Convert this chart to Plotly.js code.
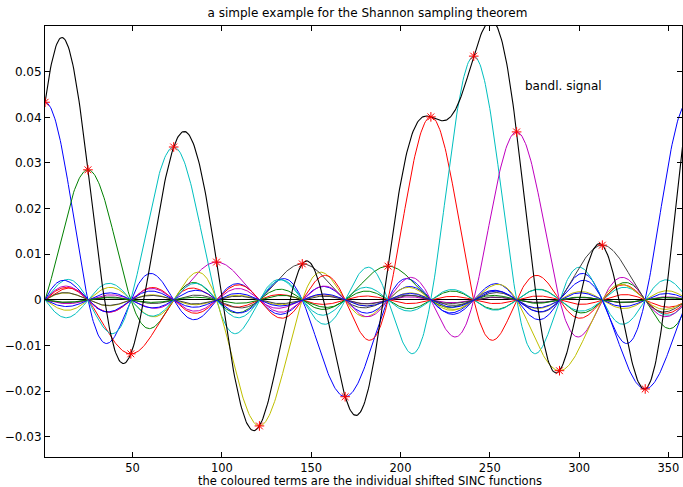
<!DOCTYPE html>
<html>
<head>
<meta charset="utf-8">
<script src="https://cdn.plot.ly/plotly-3.0.1.min.js"></script>
<style>html,body{margin:0;padding:0;background:#fff;}#chart{width:683px;height:487px;}</style>
</head>
<body>
<div id="chart"></div>
<script>
const sampleTimes = [1, 25, 49, 73, 97, 121, 145, 169, 193, 217, 241, 265, 289, 313, 337];
const sampleValues = [0.0433, 0.0285, -0.0118, 0.0335, 0.0083, -0.0276, 0.0079, -0.0212,
                      0.0074, 0.0401, 0.0534, 0.0368, -0.0155, 0.0120, -0.0195];
const period = 360;
const xTicks = [50, 100, 150, 200, 250, 300, 350];
const yTicks = [-0.03, -0.02, -0.01, 0, 0.01, 0.02, 0.03, 0.04, 0.05];
const yTickLabels = ['\u22120.03', '\u22120.02', '\u22120.01', '0', '0.01', '0.02', '0.03', '0.04', '0.05'];

// MATLAB classic colour order
const colorOrder = ['rgb(0,0,255)', 'rgb(0,128,0)', 'rgb(255,0,0)', 'rgb(0,191,191)',
                    'rgb(191,0,191)', 'rgb(191,191,0)', 'rgb(64,64,64)'];

const N = sampleTimes.length;
// periodic SINC (Dirichlet) kernel of the bandlimited interpolation
function psinc(d) {
  const a = Math.PI * d / period;
  const s = Math.sin(a);
  if (Math.abs(s) < 1e-9) return Math.cos(N * a) / Math.cos(a);
  return Math.sin(N * a) / (N * s);
}

const t = [];
for (let x = 1; x <= 358.01; x += 0.5) t.push(x);

const traces = [];
const sum = t.map(() => 0);
for (let k = 0; k < N; k++) {
  const y = t.map((x, i) => {
    const v = sampleValues[k] * psinc(x - sampleTimes[k]);
    sum[i] += v;
    return v;
  });
  traces.push({x: t, y: y, type: 'scatter', mode: 'lines',
    line: {color: colorOrder[k % colorOrder.length], width: 1}, hoverinfo: 'skip', showlegend: false});
}
traces.push({x: t, y: sum, type: 'scatter', mode: 'lines',
  line: {color: 'black', width: 1.1}, showlegend: false});
traces.push({x: sampleTimes, y: sampleValues, type: 'scatter', mode: 'markers',
  marker: {symbol: 'asterisk-open', size: 8, color: 'red', line: {color: 'red', width: 1}}, showlegend: false});

const font = {family: 'DejaVu Sans, Verdana, sans-serif', size: 12, color: 'black'};
const smallFont = {family: 'DejaVu Sans, Verdana, sans-serif', size: 11.5, color: 'black'};
const layout = {
  width: 683, height: 487,
  margin: {l: 45, r: 1, t: 26, b: 30},
  paper_bgcolor: 'white', plot_bgcolor: 'white',
  font: font,
  title: {text: 'a simple example for the Shannon sampling theorem', font: font,
          x: 0.538, xanchor: 'center', y: 0.973, yanchor: 'middle'},
  xaxis: {range: [0.95, 357.6], tickvals: xTicks, ticks: 'inside', ticklen: 5, tickcolor: 'black',
          showline: true, linecolor: 'black', linewidth: 1, mirror: 'ticks', showgrid: false, zeroline: false,
          tickfont: smallFont},
  yaxis: {range: [-0.0344, 0.0600], tickvals: yTicks, ticktext: yTickLabels, ticks: 'inside', ticklen: 5,
          tickcolor: 'black', showline: true, linecolor: 'black', linewidth: 1, mirror: 'ticks',
          showgrid: false, zeroline: true, zerolinecolor: 'black', zerolinewidth: 1, tickfont: font},
  annotations: [
    {x: 268.5, y: 0.0469, xref: 'x', yref: 'y', text: 'bandl. signal', showarrow: false,
     xanchor: 'left', yanchor: 'middle', font: font},
    {x: 0.51, y: 0, xref: 'paper', yref: 'paper', yshift: -16, text: 'the coloured terms are the individual shifted SINC functions',
     showarrow: false, xanchor: 'center', yanchor: 'top', font: smallFont, borderpad: 0}
  ]
};
Plotly.newPlot('chart', traces, layout, {displayModeBar: false, staticPlot: true});
</script>
</body>
</html>
